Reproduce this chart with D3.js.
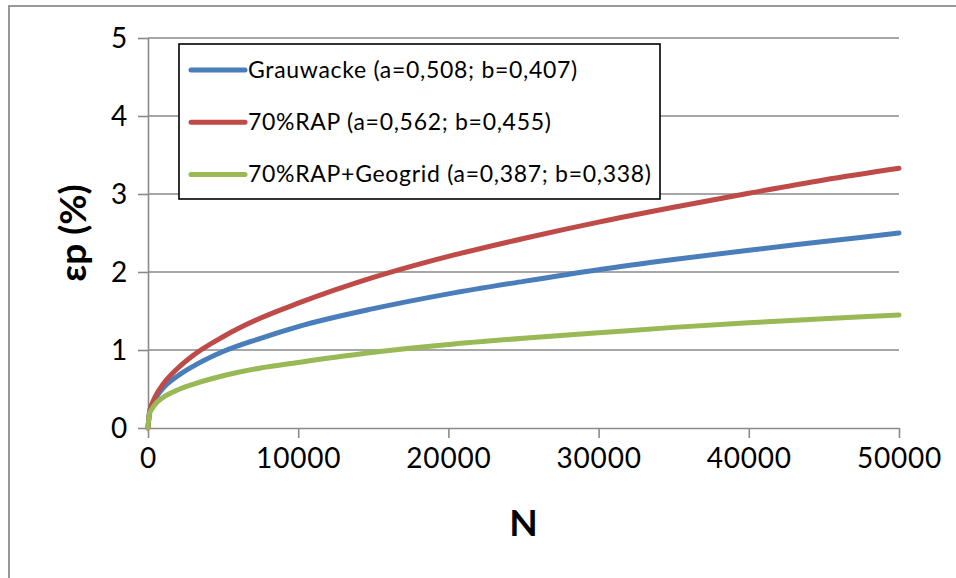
<!DOCTYPE html>
<html>
<head>
<meta charset="utf-8">
<script src="https://cdn.jsdelivr.net/npm/d3@7/dist/d3.min.js"></script>
<style>
  body { margin: 0; background: #fff; }
  svg { display: block; }
  .tick-lbl { font-family: Lato, "Liberation Sans", sans-serif; font-size: 28px; letter-spacing: 0.8px; fill: #000; }
  .ttl { font-family: Lato, "Liberation Sans", sans-serif; font-weight: bold; font-size: 37px; fill: #000; }
  .leg { font-family: Lato, "Liberation Sans", sans-serif; font-size: 23px; letter-spacing: 0.7px; fill: #000; }
</style>
</head>
<body>
<div id="chart"></div>
<script>
// load cycles N (εp in %)
var cycles = [0, 100, 250, 500, 1000, 2000, 3000, 5000, 7500, 10000, 15000, 20000, 25000, 30000, 35000, 40000, 45000, 50000];
var grauwacke = [0, 0.20, 0.29, 0.38, 0.51, 0.67, 0.79, 0.98, 1.15, 1.30, 1.53, 1.72, 1.88, 2.03, 2.16, 2.28, 2.39, 2.50];
var rap70 = [0, 0.20, 0.30, 0.41, 0.56, 0.77, 0.93, 1.17, 1.41, 1.60, 1.93, 2.20, 2.43, 2.64, 2.83, 3.01, 3.18, 3.33];
var rapGeogrid = [0, 0.18, 0.24, 0.31, 0.39, 0.49, 0.56, 0.67, 0.77, 0.84, 0.97, 1.07, 1.15, 1.22, 1.29, 1.35, 1.40, 1.45];

var seriesNames = ["Grauwacke (a=0,508; b=0,407)", "70%RAP (a=0,562; b=0,455)", "70%RAP+Geogrid (a=0,387; b=0,338)"];
var seriesColors = ["#4a7ebb", "#be4b48", "#98b954"];
var xTicks = [0, 10000, 20000, 30000, 40000, 50000];
var yTicks = [0, 1, 2, 3, 4, 5];

var W = 956, H = 578;
var margin = { top: 38, right: 57, bottom: 150, left: 148 };
var width = W - margin.left - margin.right,
    height = H - margin.top - margin.bottom;

var svg = d3.select("#chart").append("svg")
    .attr("width", W)
    .attr("height", H);

// outer chart frame (only left/top edges are inside the picture)
svg.append("rect")
    .attr("x", 9).attr("y", 6)
    .attr("width", 1200).attr("height", 1200)
    .attr("fill", "none")
    .attr("stroke", "#8e8e8e")
    .attr("stroke-width", 1.8);

var g = svg.append("g")
    .attr("transform", "translate(" + margin.left + "," + margin.top + ")");

var x = d3.scaleLinear().domain([0, 50000]).range([0, width]);
var y = d3.scaleLinear().domain([0, 5]).range([height, 0]);

// gridlines
g.selectAll(".grid")
    .data(yTicks.slice(1)).enter().append("line")
    .attr("x1", 0).attr("x2", width)
    .attr("y1", function(d) { return y(d); })
    .attr("y2", function(d) { return y(d); })
    .attr("stroke", "#8a8a8a")
    .attr("stroke-width", 1.4);

// axes
var xAxis = g.append("g")
    .attr("transform", "translate(0," + height + ")")
    .call(d3.axisBottom(x).tickValues(xTicks).tickSize(10).tickSizeOuter(0).tickFormat(d3.format("d")));
var yAxis = g.append("g")
    .call(d3.axisLeft(y).tickValues(yTicks).tickSize(10).tickSizeOuter(0).tickFormat(d3.format("d")));

[xAxis, yAxis].forEach(function(ax) {
    ax.select(".domain").attr("stroke", "#8a8a8a").attr("stroke-width", 1.6);
    ax.selectAll(".tick line").attr("stroke", "#8a8a8a").attr("stroke-width", 1.6);
    ax.selectAll(".tick text").attr("class", "tick-lbl").attr("fill", "#000");
});
xAxis.selectAll(".tick text").attr("y", 20).attr("dy", "0.71em");
yAxis.selectAll(".tick text").attr("x", -20).attr("dy", "0.35em");

// curves
var allSeries = [grauwacke, rap70, rapGeogrid];
var line = d3.line()
    .x(function(d, i) { return x(cycles[i]); })
    .y(function(d) { return y(d); })
    .curve(d3.curveMonotoneX);

g.selectAll(".curve")
    .data(allSeries).enter().append("path")
    .attr("d", line)
    .attr("fill", "none")
    .attr("stroke", function(d, i) { return seriesColors[i]; })
    .attr("stroke-width", 5)
    .attr("stroke-linecap", "round");

// axis titles
svg.append("text")
    .attr("class", "ttl")
    .attr("x", margin.left + width / 2)
    .attr("y", 536)
    .attr("text-anchor", "middle")
    .text("N");

svg.append("text")
    .attr("class", "ttl")
    .attr("transform", "translate(86,233) rotate(-90)")
    .attr("text-anchor", "middle")
    .text("εp (%)");

// legend
var legend = svg.append("g").attr("transform", "translate(179,44)");
legend.append("rect")
    .attr("width", 481).attr("height", 155)
    .attr("fill", "#fff")
    .attr("stroke", "#000")
    .attr("stroke-width", 1.6);

var item = legend.selectAll(".leg-item")
    .data(seriesNames).enter().append("g")
    .attr("transform", function(d, i) { return "translate(0," + (26 + i * 52.2) + ")"; });
item.append("line")
    .attr("x1", 12).attr("x2", 66)
    .attr("stroke", function(d, i) { return seriesColors[i]; })
    .attr("stroke-width", 5)
    .attr("stroke-linecap", "round");
item.append("text")
    .attr("class", "leg")
    .attr("x", 69)
    .attr("y", 8)
    .text(function(d) { return d; });
</script>
</body>
</html>
